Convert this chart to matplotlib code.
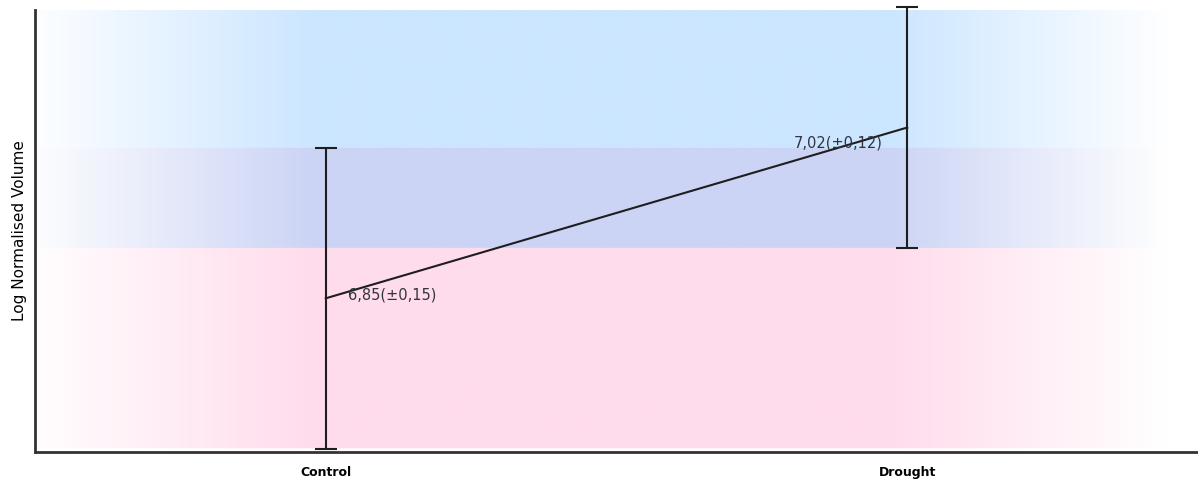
import numpy as np
import matplotlib
matplotlib.use("Agg")
import matplotlib.pyplot as plt

categories = ["Control", "Drought"]
means = [6.85, 7.02]
errors = [0.15, 0.12]
labels = ["6,85(±0,15)", "7,02(±0,12)"]

fig = plt.figure(figsize=(11.98, 4.84), dpi=100)
ax = fig.add_axes([35/1198, 32/484, (1198-35)/1198, (452-10)/484])

x = np.arange(len(categories))
ymin, ymax = 6.697, 7.137
xmin, xmax = -0.5, 1.5
ax.set_xlim(xmin, xmax)
ax.set_ylim(ymin, ymax)

# background bands (error ranges), with horizontal fade
ny, nx = 600, 600
ys = np.linspace(ymax, ymin, ny)
lo_c, hi_c = means[0] - errors[0], means[0] + errors[0]
lo_d, hi_d = means[1] - errors[1], means[1] + errors[1]
blue = np.array([204, 230, 255]) / 255
pink = np.array([255, 220, 236]) / 255
both = np.array([204, 212, 245]) / 255
white = np.array([1.0, 1.0, 1.0])
rowcol = np.zeros((ny, 3))
for i, yv in enumerate(ys):
    inc = lo_c <= yv <= hi_c
    ind = lo_d <= yv <= hi_d
    if inc and ind:
        rowcol[i] = both
    elif ind:
        rowcol[i] = blue
    elif inc:
        rowcol[i] = pink
    else:
        rowcol[i] = white
fx = np.linspace(0, 1, nx)
alpha = np.clip(np.minimum(0.05 + fx / 0.25, (0.975 - fx) / 0.24), 0, 1)
img = white[None, None, :] * (1 - alpha[None, :, None]) + rowcol[:, None, :] * alpha[None, :, None]
ax.imshow(img, extent=[xmin, xmax, ymin, ymax], aspect="auto", zorder=0, interpolation="bilinear")

ax.plot(x, means, color="#1e1e1e", lw=1.5, zorder=3)
ax.errorbar(x, means, yerr=errors, fmt="none", ecolor="#1e1e1e", elinewidth=1.5,
            capsize=8, capthick=1.5, zorder=4, clip_on=False)

ax.annotate(labels[0], (x[0], means[0]), xytext=(22, 3), textcoords="offset pixels",
            ha="left", va="center", fontsize=10.5, color="#333340", zorder=5)
ax.annotate(labels[1], (x[1], means[1]), xytext=(-25, -15), textcoords="offset pixels",
            ha="right", va="center", fontsize=10.5, color="#333340", zorder=5)

ax.set_xticks(x)
ax.set_xticklabels(categories, fontsize=9, fontweight="bold")
ax.tick_params(axis="x", length=0, pad=10)
ax.set_yticks([])
ax.set_ylabel("Log Normalised Volume", fontsize=11, labelpad=6)

for s in ["top", "right"]:
    ax.spines[s].set_visible(False)
for s in ["left", "bottom"]:
    ax.spines[s].set_color("#333333")
    ax.spines[s].set_linewidth(2)

fig.savefig("out.png", dpi=100)
